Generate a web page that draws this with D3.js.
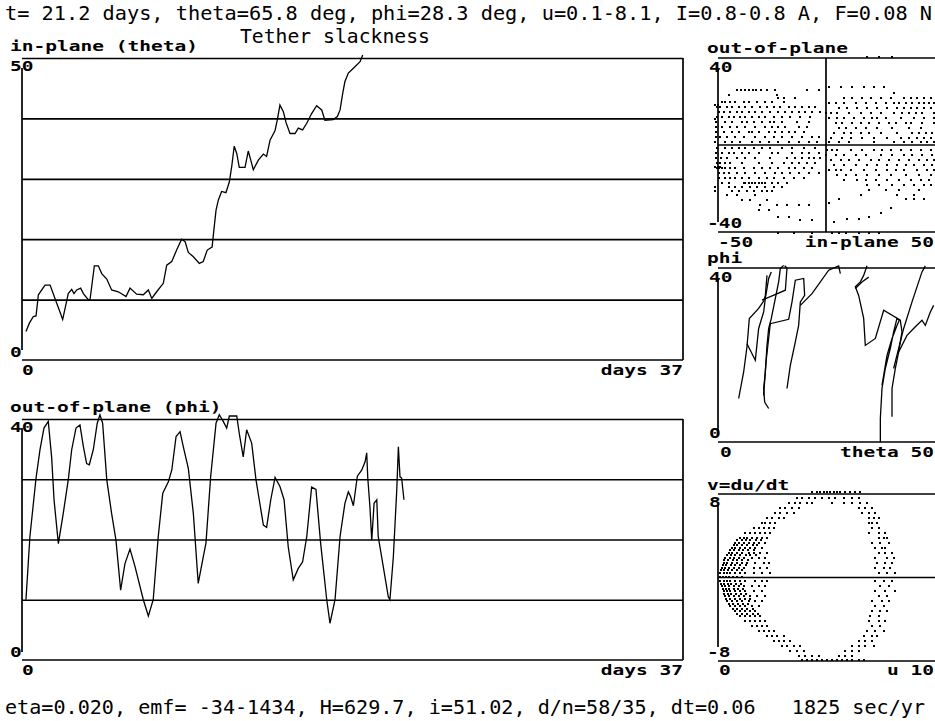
<!DOCTYPE html>
<html>
<head>
<meta charset="utf-8">
<script src="https://cdn.jsdelivr.net/npm/d3@7"></script>
<style>
  body { margin: 0; background: #fff; }
  svg { display: block; }
</style>
</head>
<body>
<script>
// ---- text ----
var headerText = "t= 21.2 days, theta=65.8 deg, phi=28.3 deg, u=0.1-8.1, I=0.8-0.8 A, F=0.08 N";
var titleText = "Tether slackness";
var footerText = "eta=0.020, emf= -34-1434, H=629.7, i=51.02, d/n=58/35, dt=0.06   1825 sec/yr";

// ---- in-plane angle theta vs time (days) ----
var thetaDays = [0.22,0.41,0.63,0.78,0.91,1.28,1.56,1.93,2.26,2.57,
  2.76,2.89,3.04,3.26,3.41,3.68,3.78,4.02,4.24,4.43,
  4.71,4.98,5.35,5.78,6.00,6.37,6.74,7.02,7.21,7.48,
  7.85,8.04,8.32,8.59,8.87,9.06,9.24,9.52,9.85,10.07,
  10.29,10.56,10.67,10.78,10.91,11.09,11.33,11.52,11.65,11.79,
  11.93,12.07,12.39,12.57,12.71,12.85,13.13,13.41,13.59,13.78,
  14.06,14.18,14.33,14.52,14.67,14.89,15.17,15.35,15.59,15.82,
  16.09,16.37,16.65,16.83,17.29,17.52,17.67,17.82,17.94,18.13,
  18.41,18.78,18.93];
var thetaVals = [4.7,6.1,7.2,7.3,10.8,12.4,12.4,9.4,6.7,11.0,
  11.7,11.0,11.6,11.9,11.0,10.0,10.0,15.6,15.6,14.3,
  13.4,11.6,11.3,10.5,11.9,10.9,10.8,11.6,10.2,11.3,
  12.7,15.7,16.3,18.2,20.0,19.6,17.8,17.1,16.0,16.3,
  18.2,18.7,21.8,24.8,26.5,27.9,27.7,29.5,32.0,35.4,
  34.2,31.9,31.9,34.6,33.1,31.5,33.1,34.1,33.7,36.4,
  38.0,39.7,42.2,41.1,39.3,37.5,37.5,38.4,38.1,39.2,
  40.8,42.1,41.4,39.7,39.8,40.3,41.4,44.2,46.1,47.5,
  48.3,49.4,50.5];

// ---- out-of-plane angle phi vs time (days) ----
var phiDays = [0.22,0.44,0.78,1.00,1.22,1.46,1.65,1.78,2.02,2.29,
  2.57,2.76,3.00,3.22,3.41,3.59,3.74,3.96,4.18,4.33,
  4.48,4.71,4.98,5.22,5.48,5.72,6.00,6.28,6.74,7.02,
  7.29,7.57,7.82,8.13,8.32,8.56,8.78,8.96,9.24,9.52,
  9.79,10.07,10.22,10.48,10.78,10.96,11.18,11.37,11.52,11.93,
  12.07,12.29,12.48,12.76,13.00,13.18,13.41,13.59,13.82,14.06,
  14.33,14.56,14.79,15.07,15.35,15.59,15.82,16.09,16.33,16.59,
  16.93,17.11,17.39,17.67,17.94,18.13,18.26,18.41,18.63,18.87,
  19.06,19.15,19.21,19.33,19.43,19.56,19.71,19.79,20.07,20.35,
  20.44,20.63,20.82,20.91,21.00,21.09,21.22];
var phiVals = [10.0,20.5,30.2,34.9,38.5,39.6,33.5,26.6,19.3,24.3,
  29.9,34.9,38.5,39.0,35.4,32.6,32.4,34.9,39.3,40.7,
  39.3,29.9,24.3,19.9,11.6,16.0,18.4,15.5,10.0,7.3,
  10.0,20.5,27.7,29.6,31.5,37.1,37.9,35.4,31.8,24.3,
  12.7,17.1,19.4,30.4,39.3,40.7,39.6,38.5,40.5,40.5,
  37.6,33.7,38.2,36.0,29.9,26.6,22.4,22.0,26.6,30.3,
  28.8,26.6,18.8,13.3,15.2,16.3,20.5,28.7,28.3,19.4,
  10.0,6.1,10.0,20.5,26.0,27.9,27.1,25.6,30.5,31.5,
  32.9,34.4,30.2,25.4,19.9,26.0,26.6,20.5,15.5,10.5,
  10.0,17.1,28.2,35.4,30.4,30.2,26.6];

// ---- out-of-plane vs in-plane scatter: [out-of-plane, [in-plane values]] ----
var oopRows = [
  [25.3,[-41.2,-39.2,-37.4,-35.5,-34,-32.3,-30.1,-27.3,-23.5,-8.8,-3.4]],
  [23,[-45,-22.7]],
  [21.5,[-22,-19.6,-14.2]],
  [19.9,[-48.2,-46.6,-44.3,-42,-38.1,-35.8,-32,-28.1,-25,-19.6]],
  [18.5,[-51.3,-50.2]],
  [17.6,[-50.5,-49,-45.9,-43.5,-40.5,-37.4,-34.3,-30.4,-27.3,-24.2,-21.2,-17.3,-14.2,-11.1,-8,-5]],
  [15.3,[-49.7,-47.4,-44.3,-41.2,-38.9,-35.8,-32.7,-29.7,-25.8,-22,-18.8,-15.8,-12.7,-9.6,-6.5,-2.6]],
  [13,[-50.5,-48.2,-45.1,-42.8,-39.7,-37.4,-34.3,-31.2,-28.1,-24.2,-20.4,-16.5,-11.9,-7.3]],
  [12,[-51.5]],
  [10.7,[-51,-46.6,-43.5,-38.9,-36.6,-33.5,-29.7,-25.8,-24.2,-20.4,-13.4,-8]],
  [8.4,[-51,-48.2,-44.3,-41.2,-37.4,-32.7,-28.1,-25,-22,-18.8,-12.7,-8.8]],
  [6.1,[-51,-47.4,-43.5,-40.5,-35.8,-34.3,-31.2,-26.6,-23.5,-20.4,-17.3,-14.2,-10.4]],
  [3.9,[-51,-49,-45.9,-42,-38.1,-32.7,-28.1,-24.2,-20.4,-15.8,-11.1,-6.5,-3.4]],
  [1.6,[-51.3,-46.6,-43.5,-39.7,-34.3,-30.4,-26.6,-22,-17.3,-12.7,-8,-4.2]],
  [-1.5,[-50.5,-46.6,-43.5,-40.5,-37.4,-33.5,-29.7,-25.8,-20.4,-15.8,-10.4,-5]],
  [-3.8,[-51,-48.2,-45.1,-42.8,-38.9,-35.8,-31.2,-25,-22,-15.8,-11.1,-8,-3.4]],
  [-6.1,[-51,-48.5,-45.9,-41.2,-37.4,-32.7,-25.8,-18.1,-14.2,-11.1,-8,-5.7,-2.6]],
  [-8.4,[-50.5,-49,-46.6,-44.3,-38.9,-31.2,-25,-19.6,-15.8,-12.7,-8.8,-5]],
  [-10,[-51.5,-50,-49]],
  [-10.7,[-50.5,-49.4,-48.2,-46.6,-44.3,-42,-38.1,-33.5,-29.7,-25.8,-22,-17.3,-14.2,-10.4,-6.5]],
  [-13,[-49.7,-47.4,-45.1,-41.2,-37.4,-32.7,-28.1,-23.5,-20.4,-16.5,-12.7,-8,-3.4]],
  [-15.3,[-49.7,-46.6,-44.3,-42,-38.9,-35.8,-31.2,-27.3,-24.2,-19.6,-15,-10.4]],
  [-17.3,[-48.2,-45.1,-38.1,-37.4,-35.8,-34.3,-32.7,-31.2,-29.7,-28.1,-25,-22,-18.1]],
  [-19.1,[-51.3,-45.1,-42,-38.9,-35.1,-32,-28.1,-24.2,-20.4]],
  [-21.1,[-51.3,-43.5,-40.5,-36.6,-33.5,-29.7,-27.3,-25]],
  [-23,[-45.9,-41.2,-32.7]],
  [-25.3,[-38.9,-35.1,-27.3]],
  [-27.6,[-30.4,-22.7,-18.1,-12.7,-8]],
  [-29.9,[-31.2,-26.6]],
  [-33,[-22,-17.3]],
  [-34.5,[-11.9,-6.5]],
  [-40.6,[-22,-15,-6.5]],
  [40.6,[19.1,24.5,30.7]],
  [26.8,[1.4,6.8,12.2,17.6,22.2,26.8]],
  [23.8,[31.5]],
  [21.5,[8.3,12.2,16.8,20.7,25.3,30,36.1,39.2,42.3,45.4,48.5]],
  [19.2,[1.4,4.5,8.3,13.7,18.4,23,27.6,31.5,33.8,36.9,40,43,45.4,47.7,50]],
  [16.9,[6,9.9,14.5,19.1,23.8,28.4,33,36.1,39.2,42.3,45.4,48.5]],
  [14.6,[-0.2,2.2,5.2,10.6,16,20.7,25.3,31.5,35.3,38.4,41.5,44.6,50]],
  [12.3,[1.4,5.2,8.3,13,17.6,21.5,23.8,27.6,34.6,40.7,45.4,50]],
  [10,[4.5,7.6,12.2,16,19.9,24.5,29.2,32.2,36.9,39.2,44.6,50]],
  [7.7,[6,9.1,13.7,18.4,23.8,30.7,38.4,43.8]],
  [5.4,[3.7,8.3,11.4,16,19.9,25.3,33,40,43,46.1,49.2]],
  [3.1,[2.2,7.6,11.4,16.8,22.2,28.4,34.6,38.4,42.3,45.4,48.5]],
  [1.2,[1.4,6,10.6,22.2,31.5,36.1,40,43.8,46.9,50]],
  [-2.3,[0.6,2.9,5.2,11.4,16.8,22.2,26.1,30,34.6,39.2,43.8,48.5]],
  [-4.6,[-0.2,4.5,8.3,13.7,18.4,25.3,30.7,36.1,40,44.6,49.2]],
  [-6.9,[2.2,6.8,10.6,15.3,20.7,24.5,29.2,33.8,38.4,43,46.9,50]],
  [-9.2,[3.7,8.3,13.7,19.1,23.8,28.4,33,36.9,40.7,45.4,49.2]],
  [-11.5,[1.4,4.5,6.8,11.4,17.6,23,28.4,32.2,36.1,42.3,46.9,50]],
  [-13.8,[5.2,9.1,13.7,19.1,24.5,29.9,36.9,43,48.5]],
  [-16.1,[8.3,14.5,18.4,23,28.4,33.8,39.2,43.8,47.7]],
  [-18.4,[19.1,24.5,30.7,36.1,40.7,45.4,48.5]],
  [-20.7,[19.9,27.6,33.8,43]],
  [-23,[16,33,40.7]],
  [-24.8,[6,36.9,40.7,45.4]],
  [-26.8,[1.4]],
  [-29.1,[30]],
  [-31.4,[25.3]],
  [-32.9,[19.9]],
  [-34.2,[9.9,15.3]],
  [-35.2,[3.7]],
  [-40.6,[2.9,6,9.1,15.3,19.9,24.5]]
];

// ---- phi vs theta trajectory pieces: [theta, phi] ----
var phiThetaPaths = [
  [[4.78,10.0],[5.94,16.1],[6.71,21.9],[7.25,28.4],[9.41,30.7],[10.57,32.4],[10.96,33.7],[11.34,38.3]],
  [[6.71,22.6],[8.64,18.8],[9.41,26.1],[10.57,29.9],[10.96,33.0],[11.73,37.6],[12.34,39.1]],
  [[11.73,7.7],[10.8,9.2],[10.57,12.3],[10.96,16.1],[11.34,22.2],[11.73,26.1],[12.34,28.4],[13.27,33.0],[14.04,36.8],[14.43,39.9],[15.2,40.6]],
  [[10.57,10.7],[11.11,18.4],[12.11,27.2],[16.36,28.2],[17.13,32.2],[17.9,37.2],[19.83,37.6],[20.06,33.7],[19.06,32.2],[18.67,26.8],[17.9,23.0],[16.74,17.6],[15.97,12.3]],
  [[10.18,32.6],[15.59,34.9],[15.97,40.0],[15.43,40.5]],
  [[19.06,31.4],[21.76,34.1],[25.62,39.5],[27.93,40.5],[28.32,38.7]],
  [[37.58,0],[37.58,5.4],[37.96,12.3],[38.73,16.9],[39.89,21.5],[40.66,25.3],[41.43,28.4],[41.97,28.0],[41.43,26.8],[40.28,23.8],[39.12,19.9],[38.35,15.3],[37.96,13.0]],
  [[40.28,5.8],[40.28,12.3],[41.05,16.9],[41.82,20.7],[42.59,25.3],[42.2,28.0],[38.35,30.3],[36.42,23.8],[34.1,22.2],[33.72,28.4],[32.56,33.7],[31.79,35.7],[32.95,36.8],[33.72,38.3],[34.49,40.5]],
  [[41.82,20.7],[43.75,24.5],[45.68,26.5],[47.22,28.0],[47.99,26.8],[49.15,29.9],[49.92,31.4]],
  [[40.66,16.9],[42.98,26.1],[44.91,32.2],[47.22,39.1],[47.99,40.5]],
  [[31.79,35.3],[33.33,36.8],[34.88,37.9]]
];

// ---- v = du/dt vs u scatter: [v, [u values]] ----
var uvRows = [
  [8.2,[4.35,4.58,4.74,4.89,5.04,5.2,5.35,5.51,5.66,5.89,6.12,6.36,6.59]],
  [7.64,[3.66,3.89,4.2,4.5,4.81,5.12,5.43,5.82,6.2,6.51]],
  [7.16,[3.27,3.58,3.81,4.12,4.35,5.28,5.82,6.2,6.59,6.9]],
  [6.68,[2.88,3.11,3.42,3.73,6.51,6.82,7.13]],
  [6.2,[2.65,2.88,3.19,3.5,6.66,6.97,7.28]],
  [5.72,[2.27,2.5,2.81,3.04,6.97,7.2,7.44]],
  [5.25,[2.03,2.19,2.42,2.65,6.97,7.13,7.36]],
  [4.77,[1.65,1.88,2.11,2.34,2.57,7.13,7.44]],
  [4.29,[1.26,1.49,1.73,1.96,2.19,2.42,6.97,7.44,7.74]],
  [3.81,[1.03,1.19,1.34,1.57,1.8,2.03,2.27,7.44,7.67,7.82]],
  [3.57,[0.9,1.1,1.3,1.5,1.75,2.0]],
  [3.33,[0.8,0.95,1.19,1.42,1.65,1.88,2.19,7.13,7.51,7.9]],
  [3.09,[0.72,0.9,1.12,1.35,1.6,1.8]],
  [2.85,[0.65,0.8,1.03,1.26,1.49,1.73,2.03,7.28,7.59,7.74]],
  [2.61,[0.55,0.72,0.95,1.18,1.4,1.65]],
  [2.37,[0.49,0.65,0.88,1.11,1.42,1.65,1.96,2.27,7.44,7.74,8.05]],
  [2.13,[0.42,0.6,0.8,1.02,1.3,1.5,1.75]],
  [1.89,[0.34,0.57,0.72,0.95,1.19,1.57,1.88,2.19,7.28,7.82,8.13]],
  [1.65,[0.3,0.48,0.68,0.9,1.1,1.4]],
  [1.41,[0.26,0.41,0.65,0.88,1.11,1.34,1.73,2.11,2.34,7.36,7.74,8.05]],
  [1.17,[0.22,0.38,0.58,0.8,1.0,1.3]],
  [0.93,[0.18,0.34,0.49,0.72,0.95,1.19,1.65,1.96,2.27,7.28,7.67,7.98]],
  [0.69,[0.15,0.3,0.48,0.65,0.9,1.1]],
  [0.45,[0.11,0.26,0.41,0.57,0.8,1.03,1.26,1.65,2.03,2.42,7.44,7.82,8.21]],
  [0.05,[0.1,0.22,0.35,0.5,0.7,0.9,1.1]],
  [-0.35,[0.11,0.26,0.41,0.57,0.8,1.03,1.26,1.73,2.03,2.27,7.28,7.67,8.05]],
  [-0.58,[0.14,0.3,0.45,0.62,0.85,1.05]],
  [-0.82,[0.18,0.34,0.49,0.72,0.95,1.19,1.57,1.88,2.19,7.51,7.9]],
  [-1.06,[0.22,0.38,0.52,0.72,0.92,1.15]],
  [-1.3,[0.26,0.41,0.57,0.8,1.03,1.26,1.65,2.03,7.28,7.74,8.21]],
  [-1.54,[0.3,0.45,0.62,0.85,1.05,1.3]],
  [-1.78,[0.34,0.49,0.72,0.95,1.19,1.49,1.8,2.19,7.44,7.82]],
  [-2.02,[0.38,0.55,0.78,1.0,1.25,1.5]],
  [-2.26,[0.41,0.65,0.88,1.11,1.42,1.73,2.03,7.13,7.59,7.9]],
  [-2.5,[0.5,0.7,0.92,1.15,1.4]],
  [-2.74,[0.57,0.8,1.03,1.26,1.57,1.88,7.28,7.67]],
  [-2.98,[0.68,0.9,1.12,1.35,1.6]],
  [-3.22,[0.8,1.03,1.26,1.49,1.73,7.13,7.51,7.82]],
  [-3.46,[0.9,1.12,1.35,1.6,1.85]],
  [-3.7,[1.03,1.26,1.49,1.73,1.96,7.05,7.44]],
  [-4.18,[1.26,1.49,1.73,1.96,2.19,6.97,7.44,7.74]],
  [-4.66,[1.57,1.8,2.03,2.27,7.13,7.51]],
  [-5.14,[1.88,2.11,2.34,2.57,6.9,7.28,7.67]],
  [-5.62,[2.27,2.5,2.73,3.04,6.74,7.13,7.36]],
  [-6.1,[2.57,2.81,3.04,3.35,6.51,6.82,7.13]],
  [-6.58,[2.96,3.19,3.5,3.81,6.2,6.51,6.82,7.2]],
  [-7.05,[3.35,3.66,3.97,5.89,6.2,6.51]],
  [-7.53,[3.73,4.04,4.35,4.66,5.59,5.89,6.2]],
  [-7.92,[3.89,4.12,4.35,4.58,4.81,5.04,5.28,5.51,5.74,5.97,6.2,6.51,6.74]]
];

// ---- plot window ----
var w = 935;
var h = 721;

var svg = d3.select("body")
    .append("svg")
    .attr("width", w)
    .attr("height", h);

// scales
var xDays = d3.scaleLinear().domain([0, 37]).range([22, 688]);
var yTheta = d3.scaleLinear().domain([0, 50]).range([360, 58]);
var yPhi = d3.scaleLinear().domain([0, 40]).range([660, 419]);

var xOop = d3.scaleLinear().domain([-50, 50]).range([718, 934]);
var yOop = d3.scaleLinear().domain([-40, 40]).range([232, 58]);

var xPt = d3.scaleLinear().domain([0, 50]).range([718, 934]);
var yPt = d3.scaleLinear().domain([0, 40]).range([442, 268]);

var xU = d3.scaleLinear().domain([0, 10]).range([718, 934]);
var yV = d3.scaleLinear().domain([-8, 8]).range([661, 494]);

var LINE_W = 1.7;

function hline(y, x1, x2) {
  svg.append("line").attr("x1", x1).attr("x2", x2).attr("y1", y).attr("y2", y)
    .attr("stroke", "#000").attr("stroke-width", LINE_W);
}
function vline(x, y1, y2) {
  svg.append("line").attr("x1", x).attr("x2", x).attr("y1", y1).attr("y2", y2)
    .attr("stroke", "#000").attr("stroke-width", LINE_W);
}

// horizontal grid from the library's axis
function grid(scale, vals, x0, x1) {
  svg.append("g")
    .attr("transform", "translate(" + x0 + ",0)")
    .call(d3.axisLeft(scale).tickValues(vals).tickSize(-(x1 - x0)).tickFormat(""))
    .call(function(g) { g.select(".domain").remove(); })
    .selectAll("line")
    .attr("stroke", "#000")
    .attr("stroke-width", LINE_W);
}

// bold bitmap-ish label
function label(txt, x, y, anchor) {
  svg.append("text")
    .attr("x", x).attr("y", y)
    .attr("text-anchor", anchor || "start")
    .attr("font-family", "DejaVu Sans Mono")
    .attr("font-weight", "bold")
    .attr("font-size", 14)
    .attr("textLength", txt.length * 11.75)
    .attr("lengthAdjust", "spacingAndGlyphs")
    .style("white-space", "pre")
    .text(txt);
}

function bigText(txt, x, y, len, size) {
  svg.append("text")
    .attr("x", x).attr("y", y)
    .attr("font-family", "DejaVu Sans Mono")
    .attr("font-size", size || 20)
    .attr("textLength", len)
    .attr("lengthAdjust", "spacingAndGlyphs")
    .style("white-space", "pre")
    .text(txt);
}

function dots(rows, xs, ys) {
  var pts = [];
  rows.forEach(function(r) {
    r[1].forEach(function(x) { pts.push([x, r[0]]); });
  });
  svg.append("g").selectAll("rect")
    .data(pts)
    .enter()
    .append("rect")
    .attr("x", function(d) { return Math.round(xs(d[0])) - 1; })
    .attr("y", function(d) { return Math.round(ys(d[1])) - 1; })
    .attr("width", 2)
    .attr("height", 2)
    .attr("fill", "#000");
}

var lineStyle = function(sel) {
  sel.attr("fill", "none").attr("stroke", "#000").attr("stroke-width", 1.3)
     .attr("stroke-linejoin", "miter");
};

// ---- header / footer ----
bigText(headerText, 5, 20, 927);
bigText(titleText, 240, 43, 190, 19);
bigText(footerText, 5, 714, 920);

// ---- theta vs days ----
grid(yTheta, [10, 20, 30, 40, 50], 22, 683);
hline(yTheta(0), 22, 683);
vline(683, yTheta(50), yTheta(0));
vline(22, yTheta(50) + 10, yTheta(0) - 10);

var thetaLine = d3.line()
    .x(function(d, i) { return xDays(thetaDays[i]); })
    .y(function(d) { return yTheta(d); });
svg.append("path").datum(thetaVals).attr("d", thetaLine).call(lineStyle);

label("in-plane (theta)", 10, 51);
label("50", 10, 71);
label("0", 10, 357);
label("0", 22, 375);
label("days 37", 683, 375, "end");

// ---- phi vs days ----
grid(yPhi, [10, 20, 30, 40], 22, 683);
hline(yPhi(0), 22, 683);
vline(683, yPhi(40), yPhi(0));
vline(22, yPhi(40) + 9, yPhi(0) - 8);

var phiLine = d3.line()
    .x(function(d, i) { return xDays(phiDays[i]); })
    .y(function(d) { return yPhi(d); });
svg.append("path").datum(phiVals).attr("d", phiLine).call(lineStyle);

label("out-of-plane (phi)", 10, 412);
label("40", 10, 432);
label("0", 10, 657);
label("0", 22, 675);
label("days 37", 683, 675, "end");

// ---- out-of-plane vs in-plane ----
hline(yOop(40), 718, 935);
hline(yOop(-40), 718, 935);
hline(yOop(0), 718, 935);
vline(xOop(0), yOop(40), yOop(-40));
vline(718, yOop(40) + 10, yOop(-40) - 10);
dots(oopRows, xOop, yOop);

label("out-of-plane", 707, 53);
label("40", 709, 72);
label("-40", 707, 228);
label("-50", 718, 247);
label("in-plane 50", 934, 247, "end");

// ---- phi vs theta ----
hline(yPt(40), 718, 935);
hline(yPt(0), 718, 935);
vline(718, yPt(40) + 10, yPt(0) - 10);

var ptLine = d3.line()
    .x(function(d) { return xPt(d[0]); })
    .y(function(d) { return yPt(d[1]); });
svg.append("g").selectAll("path")
    .data(phiThetaPaths)
    .enter()
    .append("path")
    .attr("d", ptLine)
    .call(lineStyle);

label("phi", 707, 263);
label("40", 709, 282);
label("0", 709, 438);
label("0", 720, 457);
label("theta 50", 934, 457, "end");

// ---- v = du/dt vs u ----
hline(yV(8), 718, 935);
hline(yV(-8), 718, 935);
hline(yV(0), 718, 935);
vline(718, yV(8) + 11, yV(-8) - 14);
dots(uvRows, xU, yV);

label("v=du/dt", 707, 490);
label("8", 709, 507);
label("-8", 707, 657);
label("0", 719, 675);
label("u 10", 934, 675, "end");
</script>
</body>
</html>
